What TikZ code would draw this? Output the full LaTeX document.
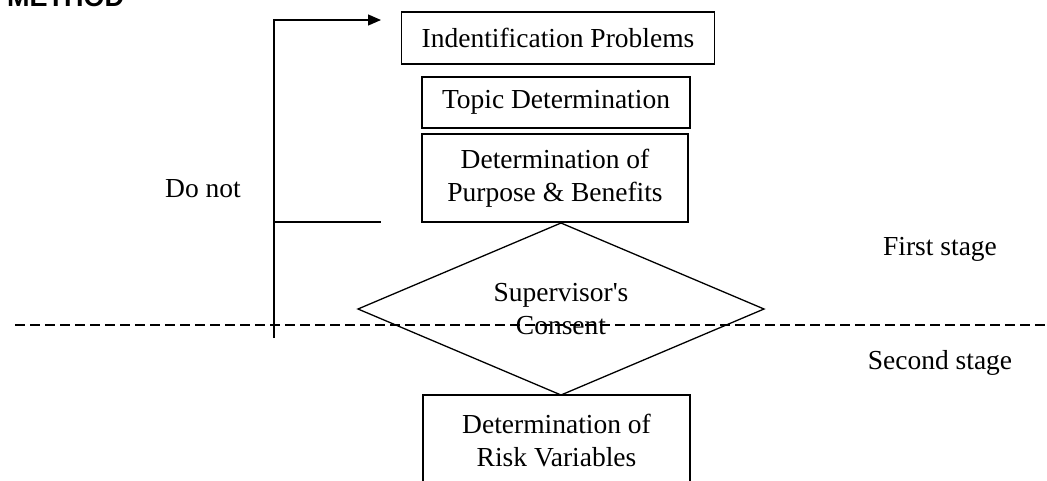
\documentclass[tikz,border=0pt]{standalone}
\usepackage{fontspec}
\setmainfont{Liberation Serif}
\newfontfamily\headfont{Liberation Sans}
\usetikzlibrary{shapes.geometric,arrows.meta}
\tikzset{
  box/.style={draw,line width=1.3pt,inner sep=0pt,align=center,font=\fontsize{27.5}{33}\selectfont},
  lbl/.style={inner sep=0pt,align=center,font=\fontsize{27.5}{33}\selectfont},
  conn/.style={line width=1.3pt},
  stageline/.style={line width=1.2pt,dash pattern=on 10pt off 5pt}
}
\begin{document}
\begin{tikzpicture}[x=1pt,y=-1pt]
\useasboundingbox (0,0) rectangle (1047,480);
\clip (0,0) rectangle (1047,480);
% header (cut off)
\node[anchor=base west,inner sep=0pt,font=\headfont\bfseries\fontsize{27}{30}\selectfont] (head) at (7,6) {METHOD};
% boxes
\node[box,minimum width=313pt,minimum height=52pt] (b1) at (558,38) {Indentification Problems};
\node[box,minimum width=268pt,minimum height=51pt] (b2) at (556,102.5) {Topic Determination};
\node[box,minimum width=266pt,minimum height=88pt] (b3) at (555,178) {Determination of\\Purpose \& Benefits};
\node[draw,diamond,line width=1.3pt,inner sep=0pt,outer sep=0pt,minimum width=406pt,minimum height=172pt] (d) at (561,309) {};
\node[lbl] (dt) at (d.center) {Supervisor\textquotesingle s\\Consent};
\node[box,minimum width=267pt,minimum height=92pt] (b4) at (556.5,441) {Determination of\\Risk Variables};
% stage divider
\coordinate (dl) at (15,325);
\coordinate (dr) at (1047,325);
\draw[stageline] (dl) -- (dr);
% feedback loop
\coordinate (fb) at (274,338);
\coordinate (ft) at (274,20);
\coordinate (fa) at (381,20);
\coordinate (fm) at (274,222);
\coordinate (fe) at (381,222);
\draw[conn,-{Triangle[length=13pt,width=11pt]}] (fb) -- (ft) -- (fa);
\draw[conn] (fm) -- (fe);
% labels
\node[lbl] (donot) at (203,189) {Do not};
\node[lbl] (s1) at (940,249) {First stage};
\node[lbl] (s2) at (940,363) {Second stage};
\end{tikzpicture}
\end{document}
